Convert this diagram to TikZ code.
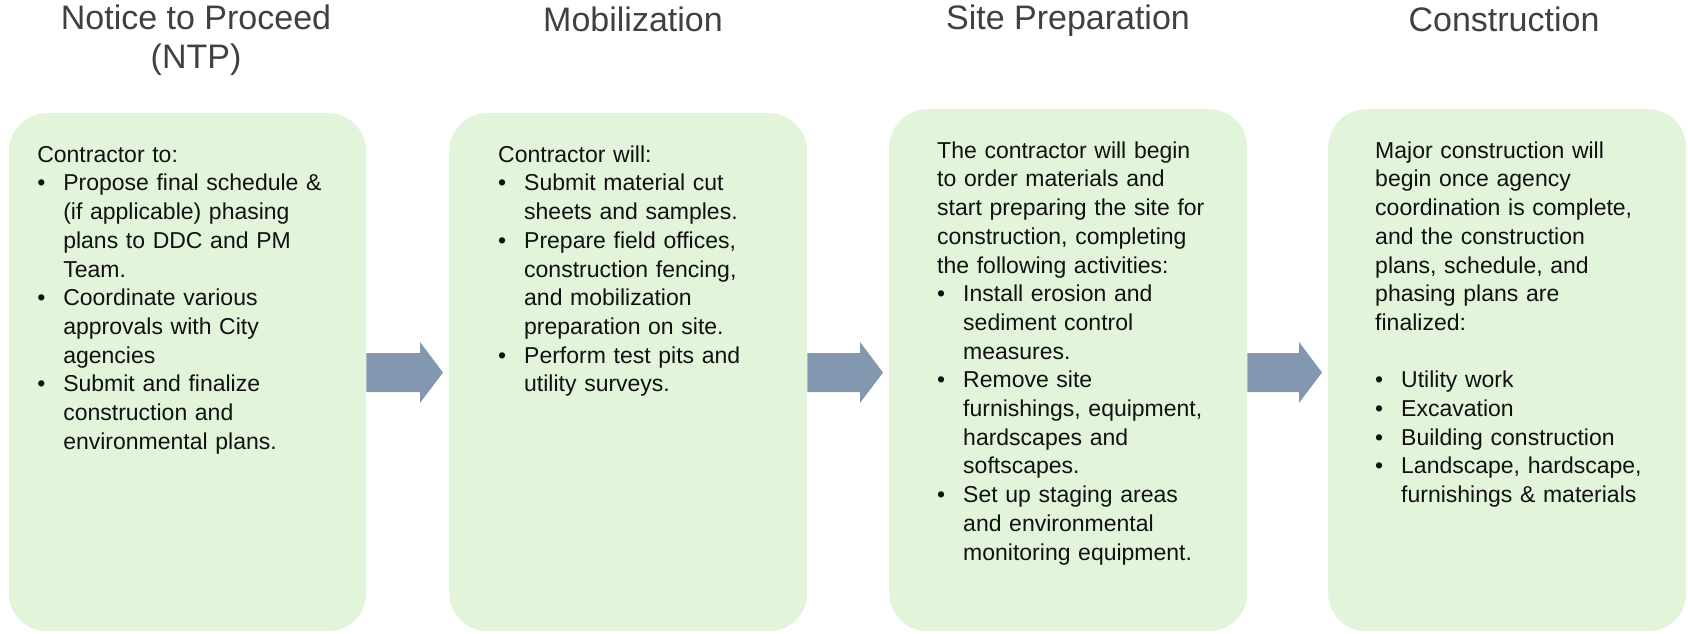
\documentclass[tikz,border=0pt]{standalone}
\usepackage{fontspec}
\setmainfont{Liberation Sans}
\usetikzlibrary{calc}
\definecolor{boxfill}{HTML}{E2F5DA}
\definecolor{arrfill}{HTML}{8497B0}
\definecolor{titlec}{HTML}{404040}
\definecolor{bodyc}{HTML}{111111}
\newcommand{\bitem}[1]{\par\hangindent=26pt\hangafter=1\noindent\makebox[26pt][l]{\textbullet}#1\par}
\newcommand{\firststrut}{\rule{0pt}{20pt}}
\newcommand{\titlestrut}{\rule{0pt}{28pt}}
\begin{document}
\begin{tikzpicture}[x=1pt,y=-1pt,
  box/.style={fill=boxfill, draw=none, rounded corners=38pt, inner sep=0pt, anchor=north west},
  body/.style={anchor=north west, inner sep=0pt, text width=330pt, align=left, text=bodyc,
    font=\fontsize{23}{28.7}\selectfont},
  ttl/.style={anchor=north, inner sep=0pt, align=center, text=titlec,
    font=\fontsize{34}{39}\selectfont},
  arr/.style={fill=arrfill, draw=none}]
\useasboundingbox (0,0) rectangle (1688,634);
% boxes
\node[box, minimum width=357.4pt, minimum height=518pt] (b1) at (8.6,113) {};
\node[box, minimum width=358pt, minimum height=518pt] (b2) at (449,113) {};
\node[box, minimum width=358pt, minimum height=522pt] (b3) at (889,109) {};
\node[box, minimum width=358pt, minimum height=522pt] (b4) at (1328,109) {};
% arrows
\coordinate (mid) at (0,372.5);
\foreach \a/\b in {b1/b2, b2/b3, b3/b4}{
  \fill[arr] ($(\a.east |- mid)+(0,-19.5)$) -- ($(\b.west |- mid)+(-29,-19.5)$)
    -- ($(\b.west |- mid)+(-29,-30.5)$) -- ($(\b.west |- mid)+(-6,0)$)
    -- ($(\b.west |- mid)+(-29,30.5)$) -- ($(\b.west |- mid)+(-29,19.5)$)
    -- ($(\a.east |- mid)+(0,19.5)$) -- cycle;
}
% titles
\node[ttl] (h1) at (196,1) {\titlestrut Notice to Proceed\\(NTP)};
\node[ttl] (h2) at (633,3) {\titlestrut Mobilization};
\node[ttl] (h3) at (1068,1) {\titlestrut Site Preparation};
\node[ttl] (h4) at (1504,3) {\titlestrut Construction};
% texts
\node[body] (t1) at ($(b1.north west)+(28.5,29)$) {\noindent\firststrut Contractor to:
\bitem{Propose final schedule \&\newline (if applicable) phasing\newline plans to DDC and PM\newline Team.}
\bitem{Coordinate various\newline approvals with City\newline agencies}
\bitem{Submit and finalize\newline construction and\newline environmental plans.}};
\node[body] (t2) at ($(b2.north west)+(49,29)$) {\noindent\firststrut Contractor will:
\bitem{Submit material cut\newline sheets and samples.}
\bitem{Prepare field offices,\newline construction fencing,\newline and mobilization\newline preparation on site.}
\bitem{Perform test pits and\newline utility surveys.}};
\node[body] (t3) at ($(b3.north west)+(48,29)$) {\noindent\firststrut The contractor will begin\newline to order materials and\newline start preparing the site for\newline construction, completing\newline the following activities:
\bitem{Install erosion and\newline sediment control\newline measures.}
\bitem{Remove site\newline furnishings, equipment,\newline hardscapes and\newline softscapes.}
\bitem{Set up staging areas\newline and environmental\newline monitoring equipment.}};
\node[body] (t4) at ($(b4.north west)+(47,29)$) {\noindent\firststrut Major construction will\newline begin once agency\newline coordination is complete,\newline and the construction\newline plans, schedule, and\newline phasing plans are\newline finalized:\newline\mbox{}
\bitem{Utility work}
\bitem{Excavation}
\bitem{Building construction}
\bitem{Landscape, hardscape,\newline furnishings \& materials}};
\end{tikzpicture}
\end{document}
